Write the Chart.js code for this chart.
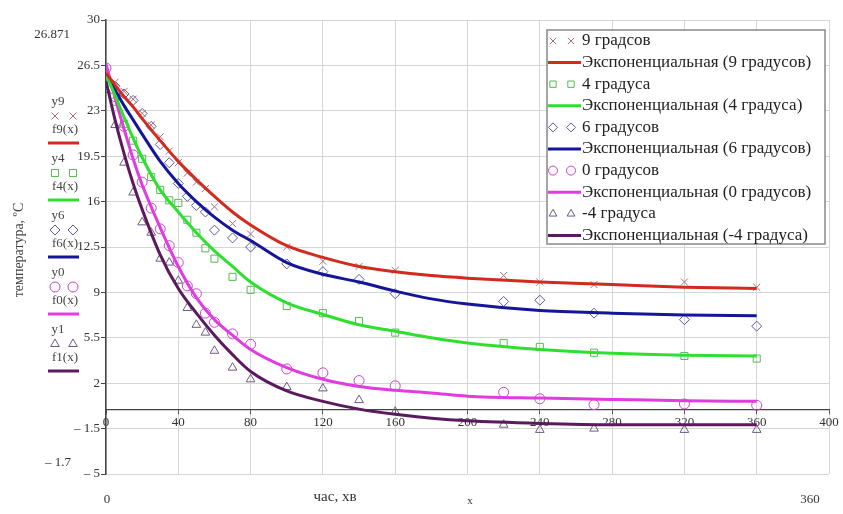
<!DOCTYPE html>
<html>
<head>
<meta charset="utf-8">
<script src="https://cdn.jsdelivr.net/npm/chart.js@4.4.1/dist/chart.umd.min.js"></script>
<style>
    body { margin: 0; background: #fff; }
    #wrap { width: 843px; height: 514px; }
</style>
</head>
<body>
<div id="wrap"><canvas id="chart" width="843" height="514"></canvas></div>
<script>
// measurement times (min) and times where the fitted curves were read
const pointTimes = [0, 5, 10, 15, 20, 25, 30, 35, 40, 45, 50, 55, 60, 70, 80, 100, 120, 140, 160, 220, 240, 270, 320, 360];
const fitTimes = [0, 5, 10, 15, 20, 30, 40, 50, 60, 70, 80, 100, 120, 140, 160, 180, 200, 240, 280, 320, 360];

// measured temperatures
const y9 = [25.9, 25.2, 24.5, 23.9, 22.8, 21.9, 21.0, 19.9, 19.0, 18.2, 17.5, 17.0, 15.6, 14.3, 13.5, 12.5, 11.4, 11.0, 10.7, 10.3, 9.8, 9.6, 9.8, 9.4];
const y4 = [25.5, 23.7, 22.0, 20.7, 19.3, 17.9, 16.9, 16.1, 15.9, 14.6, 13.6, 12.4, 11.6, 10.2, 9.2, 7.95, 7.4, 6.8, 5.9, 5.1, 4.8, 4.35, 4.1, 3.9];
const y6 = [25.6, 24.9, 24.3, 23.8, 22.8, 21.8, 20.4, 19.0, 17.4, 16.4, 15.7, 15.2, 13.8, 13.2, 12.5, 11.2, 10.6, 10.0, 8.9, 8.3, 8.4, 7.4, 6.9, 6.4];
const y0 = [26.3, 24.1, 21.8, 19.6, 17.5, 15.5, 13.9, 12.6, 11.3, 9.5, 8.9, 7.4, 6.7, 5.8, 5.0, 3.1, 2.8, 2.2, 1.8, 1.3, 0.8, 0.35, 0.4, 0.3];
const y1 = [24.6, 21.9, 19.0, 16.7, 14.4, 13.6, 11.6, 11.3, 9.9, 7.8, 6.5, 5.9, 4.5, 3.2, 2.3, 1.7, 1.6, 0.7, -0.2, -1.2, -1.6, -1.5, -1.6, -1.6];

// exponential fits
const f9 = [25.9, 25.0, 24.1, 23.3, 22.4, 20.7, 19.1, 17.7, 16.4, 15.2, 14.2, 12.6, 11.7, 11.0, 10.6, 10.3, 10.1, 9.8, 9.6, 9.4, 9.3];
const f4 = [25.8, 24.2, 22.5, 20.9, 19.4, 16.9, 15.2, 13.6, 12.2, 11.0, 9.8, 8.2, 7.3, 6.5, 6.0, 5.5, 5.1, 4.6, 4.3, 4.15, 4.1];
const f6 = [25.8, 24.6, 23.4, 22.3, 21.2, 19.1, 17.4, 16.0, 14.8, 13.8, 13.0, 11.3, 10.4, 9.8, 9.1, 8.5, 8.1, 7.6, 7.4, 7.25, 7.2];
const f0 = [26.6, 24.0, 21.6, 19.3, 17.3, 14.0, 11.0, 8.6, 6.9, 5.7, 4.6, 3.2, 2.3, 1.75, 1.45, 1.25, 1.0, 0.85, 0.75, 0.65, 0.6];
const f1 = [25.3, 22.3, 19.7, 17.4, 15.4, 11.9, 9.3, 7.4, 5.7, 4.2, 2.9, 1.4, 0.6, 0.0, -0.4, -0.7, -0.9, -1.1, -1.2, -1.2, -1.2];

const pointLabels = ['9 градсов', '4 градуса', '6 градусов', '0 градусов', '-4 градуса'];
const fitLabels = ['Экспоненциальная (9 градусов)', 'Экспоненциальная (4 градуса)', 'Экспоненциальная (6 градусов)', 'Экспоненциальная (0 градусов)', 'Экспоненциальная (-4 градуса)'];
const sideNames = [['y9', 'f9(x)'], ['y4', 'f4(x)'], ['y6', 'f6(x)'], ['y0', 'f0(x)'], ['y1', 'f1(x)']];

const yTicks = [-5, -1.5, 2, 5.5, 9, 12.5, 16, 19.5, 23, 26.5, 30];
const xTicks = [0, 40, 80, 120, 160, 200, 240, 280, 320, 360, 400];

const SERIF = "'Liberation Serif', 'Times New Roman', serif";
const markerStyles = ['crossRot', 'rect', 'rectRot', 'circle', 'triangle'];
const markerColors = ['#a8707c', '#55bb55', '#5a5aa0', '#cc44cc', '#6e5c7e'];
const lineColors = ['#d22a1e', '#2ee02e', '#15159a', '#e03ce0', '#5c1a5e'];

function pts(xs, ys) {
    return xs.map((x, i) => ({ x: x, y: ys[i] }));
}

const measured = [y9, y4, y6, y0, y1];
const fitted = [f9, f4, f6, f0, f1];

const datasets = [];
measured.forEach((ys, i) => {
    datasets.push({
        label: pointLabels[i],
        data: pts(pointTimes, ys),
        showLine: false,
        pointStyle: markerStyles[i],
        pointRadius: 5,
        pointBorderWidth: 1,
        borderColor: markerColors[i],
        backgroundColor: 'transparent',
        order: 2
    });
    datasets.push({
        label: fitLabels[i],
        data: pts(fitTimes, fitted[i]),
        showLine: true,
        pointRadius: 0,
        borderWidth: 3,
        borderColor: lineColors[i],
        backgroundColor: lineColors[i],
        cubicInterpolationMode: 'monotone',
        order: 1
    });
});

function drawMarker(ctx, style, color, x, y, r) {
    ctx.save();
    ctx.strokeStyle = color;
    ctx.fillStyle = 'rgba(0,0,0,0)';
    ctx.lineWidth = 1;
    Chart.helpers.drawPoint(ctx, { pointStyle: style, radius: r, borderWidth: 1, rotation: 0 }, x, y);
    ctx.restore();
}

// legend box inside the plot
const boxLegend = {
    id: 'boxLegend',
    afterDraw(chart) {
        const ctx = chart.ctx;
        const x0 = 547, top = 30, w = 278, h = 214, row = 21.6;
        ctx.save();
        ctx.fillStyle = '#fff';
        ctx.fillRect(x0, top, w, h);
        ctx.strokeStyle = '#888';
        ctx.lineWidth = 1.5;
        ctx.strokeRect(x0, top, w, h);
        ctx.font = '17px ' + SERIF;
        ctx.textBaseline = 'middle';
        chart.data.datasets.forEach((ds, i) => {
            const y = top + 11 + i * row;
            if (ds.showLine) {
                ctx.strokeStyle = ds.borderColor;
                ctx.lineWidth = 3;
                ctx.beginPath();
                ctx.moveTo(x0 + 1, y);
                ctx.lineTo(x0 + 34, y);
                ctx.stroke();
            } else {
                drawMarker(ctx, ds.pointStyle, ds.borderColor, x0 + 6, y, 4.5);
                drawMarker(ctx, ds.pointStyle, ds.borderColor, x0 + 24, y, 4.5);
            }
            ctx.fillStyle = '#222';
            ctx.textAlign = 'left';
            ctx.fillText(ds.label, x0 + 35, y);
        });
        ctx.restore();
    }
};

// Mathcad style names on the left, axis title and corner limits
const sideText = {
    id: 'sideText',
    afterDraw(chart) {
        const ctx = chart.ctx;
        ctx.save();
        ctx.font = '13px ' + SERIF;
        ctx.textBaseline = 'middle';
        ctx.textAlign = 'center';
        sideNames.forEach((names, i) => {
            const base = 102 + i * 57;
            const dsPts = chart.data.datasets[i * 2];
            const dsFit = chart.data.datasets[i * 2 + 1];
            ctx.fillStyle = '#444';
            ctx.fillText(names[0], 58, base);
            drawMarker(ctx, dsPts.pointStyle, dsPts.borderColor, 55, base + 14, 5);
            drawMarker(ctx, dsPts.pointStyle, dsPts.borderColor, 73, base + 14, 5);
            ctx.fillStyle = '#444';
            ctx.fillText(names[1], 65, base + 28);
            ctx.strokeStyle = dsFit.borderColor;
            ctx.lineWidth = 3;
            ctx.beginPath();
            ctx.moveTo(48, base + 41);
            ctx.lineTo(79, base + 41);
            ctx.stroke();
        });

        ctx.fillStyle = '#333';
        ctx.font = '13px ' + SERIF;
        ctx.fillText('26.871', 52, 35);
        ctx.fillText('– 1.7', 58, 463);
        ctx.fillText('0', 107, 500);
        ctx.fillText('360', 810, 500);
        ctx.font = '11px ' + SERIF;
        ctx.fillText('x', 470, 501);
        ctx.font = '15px ' + SERIF;
        ctx.fillText('час, хв', 335, 497);

        ctx.translate(19, 250);
        ctx.rotate(-Math.PI / 2);
        ctx.font = '14px ' + SERIF;
        ctx.fillStyle = '#444';
        ctx.fillText('температура, ºC', 0, 0);
        ctx.restore();
    }
};

const ctx = document.getElementById('chart').getContext('2d');
new Chart(ctx, {
    type: 'scatter',
    data: { datasets: datasets },
    options: {
        responsive: false,
        animation: false,
        devicePixelRatio: 1,
        layout: { padding: { top: 20, right: 14, bottom: 40, left: 0 } },
        plugins: {
            legend: { display: false },
            tooltip: { enabled: false }
        },
        scales: {
            x: {
                type: 'linear',
                position: { y: 0 },
                min: 0,
                max: 400,
                afterBuildTicks: s => { s.ticks = xTicks.map(v => ({ value: v })); },
                grid: { color: '#d6d6d6', tickColor: '#555', tickLength: 4 },
                border: { color: '#444', width: 1.2 },
                ticks: { color: '#333', font: { family: SERIF, size: 13 }, padding: 2, maxRotation: 0 }
            },
            y: {
                type: 'linear',
                min: -5,
                max: 30,
                afterBuildTicks: s => { s.ticks = yTicks.map(v => ({ value: v })); },
                afterFit: s => { s.width = 106; },
                grid: { color: '#d6d6d6', tickColor: '#444', tickLength: 5 },
                border: { color: '#444', width: 1.5 },
                ticks: {
                    color: '#333',
                    font: { family: SERIF, size: 13 },
                    padding: 1,
                    callback: v => v < 0 ? '– ' + Math.abs(v) : String(v)
                }
            }
        }
    },
    plugins: [boxLegend, sideText]
});
</script>
</body>
</html>
